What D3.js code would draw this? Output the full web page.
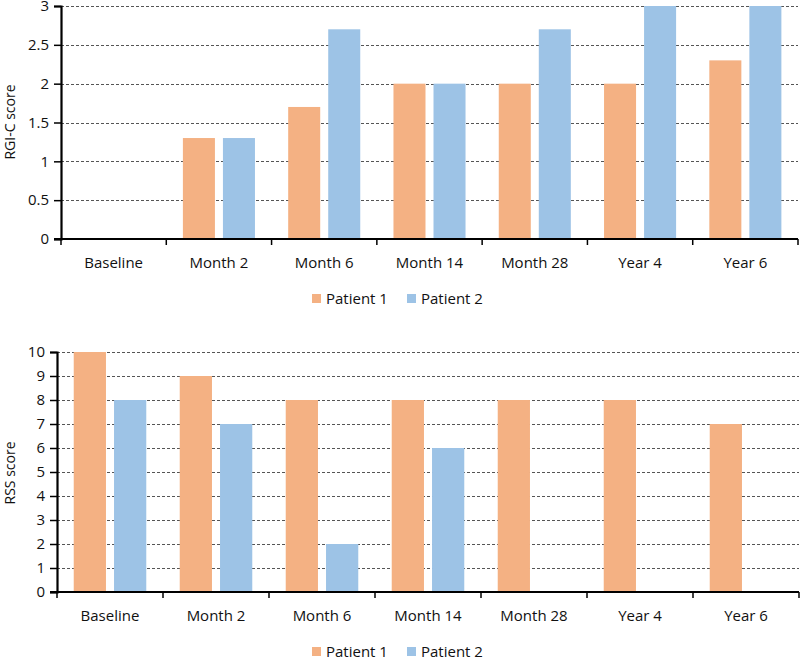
<!DOCTYPE html>
<html><head><meta charset="utf-8">
<script src="https://cdn.jsdelivr.net/npm/d3@7"></script>
<style>body{margin:0;background:#fff}text{font-family:"Open Sans",sans-serif;fill:#111}</style>
</head><body>
<svg id="c" width="800" height="661"></svg>
<script>
const categories = ["Baseline","Month 2","Month 6","Month 14","Month 28","Year 4","Year 6"];
const seriesNames = ["Patient 1","Patient 2"];
const colors = ["#F4B183","#9DC3E6"];
const rgiP1 = [0,1.3,1.7,2,2,2,2.3];
const rgiP2 = [0,1.3,2.7,2,2.7,3,3];
const rgiTicks = [0,0.5,1,1.5,2,2.5,3];
const rssP1 = [10,9,8,8,8,8,7];
const rssP2 = [8,7,2,6,0,0,0];
const rssTicks = [0,1,2,3,4,5,6,7,8,9,10];

const svg = d3.select("#c");

function panel(cfg){
  const {x0,x1,y0,y1,max,ticks,s1,s2,title,titleY,legendY} = cfg;
  const g = svg.append("g");
  const x = d3.scaleBand().domain(categories).range([x0,x1]).padding(0);
  const xs = d3.scaleBand().domain([0,1]).range([0,x.bandwidth()]).paddingInner(0.2).paddingOuter(0.415);
  const y = d3.scaleLinear().domain([0,max]).range([y1,y0]);
  g.selectAll("line.grid").data(ticks.filter(t=>t>0)).enter().append("line")
    .attr("x1",x0).attr("x2",x1).attr("y1",d=>Math.round(y(d))+0.5).attr("y2",d=>Math.round(y(d))+0.5)
    .attr("stroke","#555").attr("stroke-width",1).attr("stroke-dasharray","3,2");
  const data = [];
  categories.forEach((c,i)=>{data.push({c,s:0,v:s1[i]});data.push({c,s:1,v:s2[i]});});
  g.selectAll("rect.bar").data(data.filter(d=>d.v>0)).enter().append("rect")
    .attr("x",d=>x(d.c)+xs(d.s)).attr("width",xs.bandwidth())
    .attr("y",d=>y(d.v)).attr("height",d=>y(0)-y(d.v)).attr("fill",d=>colors[d.s]);
  const ya = g.append("g").attr("transform",`translate(${x0},0)`)
    .call(d3.axisLeft(y).tickValues(ticks).tickSize(7).tickPadding(5).tickFormat(d3.format("")));
  ya.select(".domain").attr("stroke","#000").attr("stroke-width",2.2);
  ya.selectAll(".tick line").attr("stroke","#000").attr("stroke-width",1.5);
  ya.selectAll("text").style("font-size","15px").style("font-family","'Open Sans',sans-serif").attr("fill","#111");
  const xa = g.append("g").attr("transform",`translate(0,${y1})`);
  xa.append("line").attr("x1",x0-7).attr("x2",x1).attr("y1",0).attr("y2",0).attr("stroke","#000").attr("stroke-width",2.2);
  const bounds = d3.range(categories.length+1).map(i=>x0+i*x.step());
  xa.selectAll("line.t").data(bounds).enter().append("line")
    .attr("x1",d=>d).attr("x2",d=>d).attr("y1",0).attr("y2",6).attr("stroke","#000").attr("stroke-width",1.5);
  xa.selectAll("text").data(categories).enter().append("text")
    .attr("x",d=>x(d)+x.bandwidth()/2).attr("y",29).attr("text-anchor","middle")
    .style("font-size","15px").text(d=>d);
  g.append("text").attr("transform",`translate(15,${titleY}) rotate(-90)`).attr("text-anchor","middle")
    .style("font-size","14px").text(title);
  if(legendY!==undefined){
    const lx = [312,407];
    seriesNames.forEach((n,i)=>{
      g.append("rect").attr("x",lx[i]).attr("y",legendY-4).attr("width",9).attr("height",9).attr("fill",colors[i]);
      g.append("text").attr("x",lx[i]+14).attr("y",legendY+5.5).style("font-size","15px").text(n);
    });
  }
}

panel({x0:61,x1:798,y0:6,y1:239,max:3,ticks:rgiTicks,s1:rgiP1,s2:rgiP2,title:"RGI-C score",titleY:122,legendY:298});
panel({x0:57,x1:799,y0:352,y1:592,max:10,ticks:rssTicks,s1:rssP1,s2:rssP2,title:"RSS score",titleY:473,legendY:651});
</script>
</body></html>
